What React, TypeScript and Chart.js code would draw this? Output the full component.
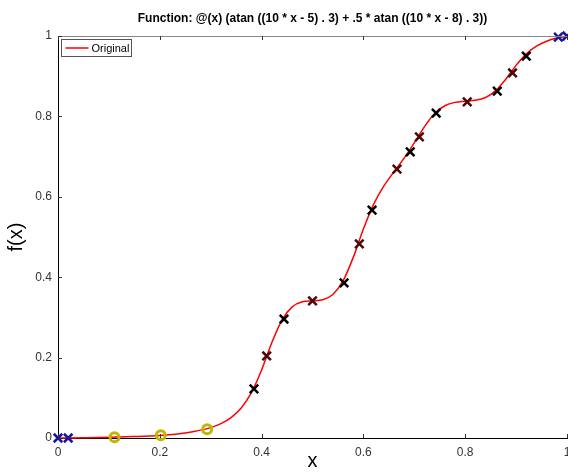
import React, { useEffect, useRef } from "react";
import { Chart, registerables } from "chart.js";

Chart.register(...registerables);

const TITLE = "Function: @(x) (atan ((10 * x - 5) . 3) + .5 * atan ((10 * x - 8) . 3))";
const LEGEND_LABEL = "Original";

const curveX = [0, 0.05, 0.1, 0.15, 0.2, 0.25, 0.3, 0.32, 0.34, 0.36, 0.38, 0.4, 0.42, 0.44, 0.46, 0.48, 0.5, 0.52, 0.54, 0.56, 0.58, 0.6, 0.62, 0.64, 0.66, 0.68, 0.7, 0.72, 0.74, 0.76, 0.78, 0.8, 0.82, 0.84, 0.86, 0.88, 0.9, 0.92, 0.94, 0.96, 0.98, 1.0];
const curveY = [0, 0.0007, 0.0017, 0.0035, 0.0065, 0.0125, 0.0258, 0.0357, 0.0509, 0.0748, 0.1128, 0.1693, 0.237, 0.2935, 0.3261, 0.3387, 0.3411, 0.3437, 0.357, 0.3907, 0.4493, 0.52, 0.5812, 0.6265, 0.6622, 0.6961, 0.7341, 0.7744, 0.8071, 0.8265, 0.8349, 0.8377, 0.8399, 0.8471, 0.864, 0.8928, 0.927, 0.9556, 0.9749, 0.9871, 0.9949, 1.0];

const blackX = [0.385, 0.444, 0.562, 0.617, 0.692, 0.743, 0.863, 0.92];
const blackY = [0.122, 0.296, 0.386, 0.567, 0.712, 0.808, 0.863, 0.95];
const darkX = [0.41, 0.5, 0.592, 0.666, 0.71, 0.804, 0.893];
const darkY = [0.204, 0.341, 0.483, 0.669, 0.749, 0.836, 0.908];
const yellowX = [0.111, 0.202, 0.293];
const yellowY = [0.002, 0.007, 0.022];
const blueX = [0.0, 0.02, 0.983, 1.0];
const blueY = [0.0, 0.0, 0.997, 1.0];

const xTicks = [0, 0.2, 0.4, 0.6, 0.8, 1];
const yTicks = [0, 0.2, 0.4, 0.6, 0.8, 1];

const FONT = "'Liberation Sans', Arial, Helvetica, sans-serif";

const pts = (xs: number[], ys: number[]) => xs.map((x, i) => ({ x, y: ys[i] }));

const framePlugin = {
  id: "frame",
  afterDraw(chart: any) {
    const { ctx, chartArea } = chart;
    const { left, right, top, bottom } = chartArea;
    const xs = chart.scales.x;
    const ys = chart.scales.y;
    ctx.save();
    // top border
    ctx.strokeStyle = "#888888";
    ctx.lineWidth = 1;
    ctx.beginPath();
    ctx.moveTo(left, top + 0.5);
    ctx.lineTo(right, top + 0.5);
    ctx.stroke();
    // inward ticks
    ctx.strokeStyle = "#333333";
    ctx.beginPath();
    xTicks.forEach((v) => {
      const px = Math.round(xs.getPixelForValue(v)) + 0.5;
      ctx.moveTo(px, bottom);
      ctx.lineTo(px, bottom - 4);
      ctx.moveTo(px, top);
      ctx.lineTo(px, top + 4);
    });
    yTicks.forEach((v) => {
      const py = Math.round(ys.getPixelForValue(v)) + 0.5;
      ctx.moveTo(left, py);
      ctx.lineTo(left + 4, py);
    });
    ctx.stroke();
    // legend
    const lx = left + 3.5;
    const ly = top + 3.5;
    ctx.fillStyle = "#ffffff";
    ctx.fillRect(lx, ly, 70, 17);
    ctx.strokeStyle = "#555555";
    ctx.lineWidth = 1;
    ctx.strokeRect(lx, ly, 70, 17);
    ctx.strokeStyle = "#ff0000";
    ctx.lineWidth = 1.5;
    ctx.beginPath();
    ctx.moveTo(lx + 4, ly + 8.5);
    ctx.lineTo(lx + 27, ly + 8.5);
    ctx.stroke();
    ctx.fillStyle = "#000000";
    ctx.font = `11px ${FONT}`;
    ctx.textBaseline = "middle";
    ctx.textAlign = "left";
    ctx.fillText(LEGEND_LABEL, lx + 30, ly + 9);
    ctx.restore();
  },
};

export default function App() {
  const ref = useRef<HTMLCanvasElement>(null);
  useEffect(() => {
    if (!ref.current) return;
    const chart = new Chart(ref.current, {
      type: "scatter",
      data: {
        datasets: [
          {
            label: "blue",
            data: pts(blueX, blueY),
            pointStyle: "crossRot",
            pointRadius: 6,
            borderColor: "#16169a",
            pointBorderWidth: 2.5,
            clip: false,
          } as any,
          {
            label: "yellow",
            data: pts(yellowX, yellowY),
            pointStyle: "circle",
            pointRadius: 4.5,
            borderColor: "#bdb800",
            backgroundColor: "rgba(0,0,0,0)",
            pointBorderWidth: 3,
            clip: false,
          },
          {
            label: "black",
            data: pts(blackX, blackY),
            pointStyle: "crossRot",
            pointRadius: 6,
            borderColor: "#000000",
            pointBorderWidth: 2.5,
            clip: false,
          },
          {
            label: "dark",
            data: pts(darkX, darkY),
            pointStyle: "crossRot",
            pointRadius: 6,
            borderColor: "#4a0808",
            pointBorderWidth: 2.5,
            clip: false,
          },
          {
            label: LEGEND_LABEL,
            data: pts(curveX, curveY),
            showLine: true,
            pointRadius: 0,
            borderColor: "#ff0000",
            borderWidth: 1.5,
            cubicInterpolationMode: "monotone",
            clip: false,
          },
        ],
      },
      options: {
        responsive: false,
        animation: false,
        events: [],
        layout: { autoPadding: false, padding: { left: 0, right: 1, top: 0, bottom: 0 } },
        plugins: {
          legend: { display: false },
          tooltip: { enabled: false },
          title: {
            display: true,
            text: TITLE,
            fullSize: false,
            color: "#000000",
            font: { family: FONT, size: 12, weight: "bold" },
            padding: { top: 11, bottom: 10.6 },
          },
        },
        scales: {
          x: {
            type: "linear",
            min: 0,
            max: 1,
            afterBuildTicks: (s: any) => {
              s.ticks = xTicks.map((v) => ({ value: v }));
            },
            ticks: {
              color: "#333333",
              font: { family: FONT, size: 12 },
              padding: 7,
              maxRotation: 0,
              callback: (v: any) => String(Number(Number(v).toFixed(1))),
            },
            grid: { display: false, drawTicks: false },
            border: { display: true, color: "#000000", width: 1 },
            title: {
              display: true,
              text: "x",
              color: "#000000",
              font: { family: FONT, size: 20 },
              padding: { top: 0, bottom: 0 },
            },
            afterFit: (s: any) => {
              s.height = 35;
              s.paddingLeft = 0;
              s.paddingRight = 0;
            },
          },
          y: {
            type: "linear",
            min: 0,
            max: 1,
            afterBuildTicks: (s: any) => {
              s.ticks = yTicks.map((v) => ({ value: v }));
            },
            ticks: {
              color: "#333333",
              font: { family: FONT, size: 12 },
              padding: 6,
              callback: (v: any) => String(Number(Number(v).toFixed(1))),
            },
            grid: { display: false, drawTicks: false },
            border: { display: true, color: "#000000", width: 1 },
            title: {
              display: true,
              text: "f(x)",
              color: "#000000",
              font: { family: FONT, size: 20 },
              padding: { top: 4, bottom: 0 },
            },
            afterFit: (s: any) => {
              s.width = 58;
              s.paddingTop = 0;
              s.paddingBottom = 0;
            },
          },
        },
      },
      plugins: [framePlugin],
    } as any);
    return () => chart.destroy();
  }, []);
  return (
    <div style={{ position: "absolute", left: 0, top: 0, width: 568, height: 473, background: "#fff" }}>
      <canvas ref={ref} width={568} height={473} />
    </div>
  );
}
